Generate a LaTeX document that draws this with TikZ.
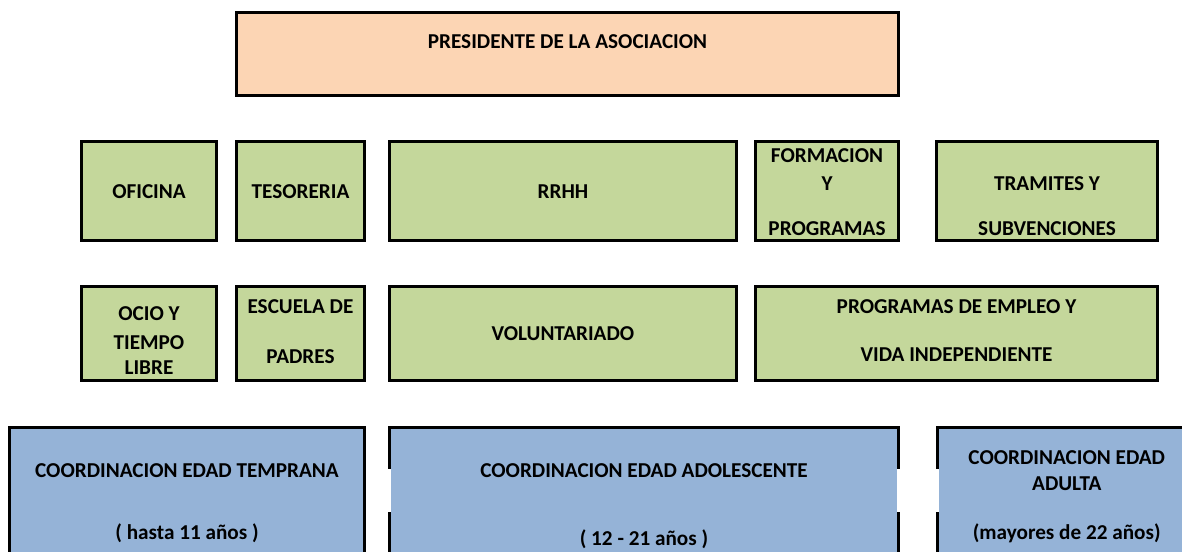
\documentclass[tikz,border=0pt]{standalone}
\usepackage{fontspec}
\setmainfont{Carlito}
\definecolor{peach}{HTML}{FCD5B4}
\definecolor{leaf}{HTML}{C4D79B}
\definecolor{sky}{HTML}{95B3D7}
\newcommand\mkbox[6]{\node[#2, minimum width={(#5-#3)*0.5pt}, minimum height={(#6-#4)*0.5pt}] (#1) at ({(#3+#5)/2},{(#4+#6)/2}) {};}
\newcommand\txtline[4]{\node[txt] (#1) at (#2.center |- 0,#3) {#4};}
\begin{document}
\begin{tikzpicture}[x=0.5pt,y=-0.5pt,
  boxbase/.style={draw=black, line width=1.5pt, rectangle, inner sep=0pt, outer sep=0pt},
  pbox/.style={boxbase, fill=peach},
  gbox/.style={boxbase, fill=leaf},
  bbox/.style={boxbase, fill=sky},
  txt/.style={anchor=base, inner sep=0pt, outer sep=0pt, font=\fontsize{10.6}{12}\selectfont\bfseries},
  gapline/.style={draw=white, line width=1.6pt, line cap=butt}]
\clip (0,0) rectangle (1182,551);
\fill[white] (0,0) rectangle (1182,551);
% boxes
\mkbox{pres}{pbox}{236.5}{12.5}{898.5}{95.5}
\mkbox{of}{gbox}{81.5}{141.5}{216.5}{240.5}
\mkbox{tes}{gbox}{236.5}{141.5}{364.5}{240.5}
\mkbox{rrhh}{gbox}{389.5}{141.5}{736.5}{240.5}
\mkbox{form}{gbox}{755.5}{141.5}{898.5}{240.5}
\mkbox{tram}{gbox}{936.5}{141.5}{1157.5}{240.5}
\mkbox{ocio}{gbox}{81.5}{286.5}{216.5}{380.5}
\mkbox{esc}{gbox}{236.5}{286.5}{364.5}{380.5}
\mkbox{vol}{gbox}{389.5}{286.5}{736.5}{380.5}
\mkbox{prog}{gbox}{755.5}{286.5}{1157.5}{380.5}
\mkbox{cA}{bbox}{9.5}{427.5}{364.5}{600}
\mkbox{cB}{bbox}{389.5}{427.5}{898.5}{600}
\mkbox{cC}{bbox}{937.5}{427.5}{1196}{600}
% gaps in borders
\draw[gapline] (cB.west |- 0,469) -- (cB.west |- 0,512);
\draw[gapline] (cB.east |- 0,469) -- (cB.east |- 0,512);
\draw[gapline] (cC.west |- 0,469) -- (cC.west |- 0,512);
% texts
\txtline{pres-t}{pres}{49}{PRESIDENTE DE LA ASOCIACION}
\txtline{of-t}{of}{198.8}{OFICINA}
\txtline{tes-t}{tes}{198.8}{TESORERIA}
\txtline{rrhh-t}{rrhh}{198.8}{RRHH}
\txtline{form-t1}{form}{162.8}{FORMACION}
\txtline{form-t2}{form}{190.8}{Y}
\txtline{form-t3}{form}{235.8}{PROGRAMAS}
\txtline{tram-t1}{tram}{190.8}{TRAMITES Y}
\txtline{tram-t2}{tram}{235.8}{SUBVENCIONES}
\txtline{ocio-t1}{ocio}{320.8}{OCIO Y}
\txtline{ocio-t2}{ocio}{349.3}{TIEMPO}
\txtline{ocio-t3}{ocio}{374.8}{LIBRE}
\txtline{esc-t1}{esc}{313.5}{ESCUELA DE}
\txtline{esc-t2}{esc}{363.5}{PADRES}
\txtline{vol-t}{vol}{340}{VOLUNTARIADO}
\txtline{prog-t1}{prog}{313.5}{PROGRAMAS DE EMPLEO Y}
\txtline{prog-t2}{prog}{361.8}{VIDA INDEPENDIENTE}
\txtline{cA-t1}{cA}{477.5}{COORDINACION EDAD TEMPRANA}
\txtline{cA-t2}{cA}{539}{( hasta 11 años )}
\txtline{cB-t1}{cB}{477.5}{COORDINACION EDAD ADOLESCENTE}
\txtline{cB-t2}{cB}{545}{( 12 - 21 años )}
\txtline{cC-t1}{cC}{464.8}{COORDINACION EDAD}
\txtline{cC-t2}{cC}{490.8}{ADULTA}
\txtline{cC-t3}{cC}{539}{(mayores de 22 años)}
\end{tikzpicture}
\end{document}
